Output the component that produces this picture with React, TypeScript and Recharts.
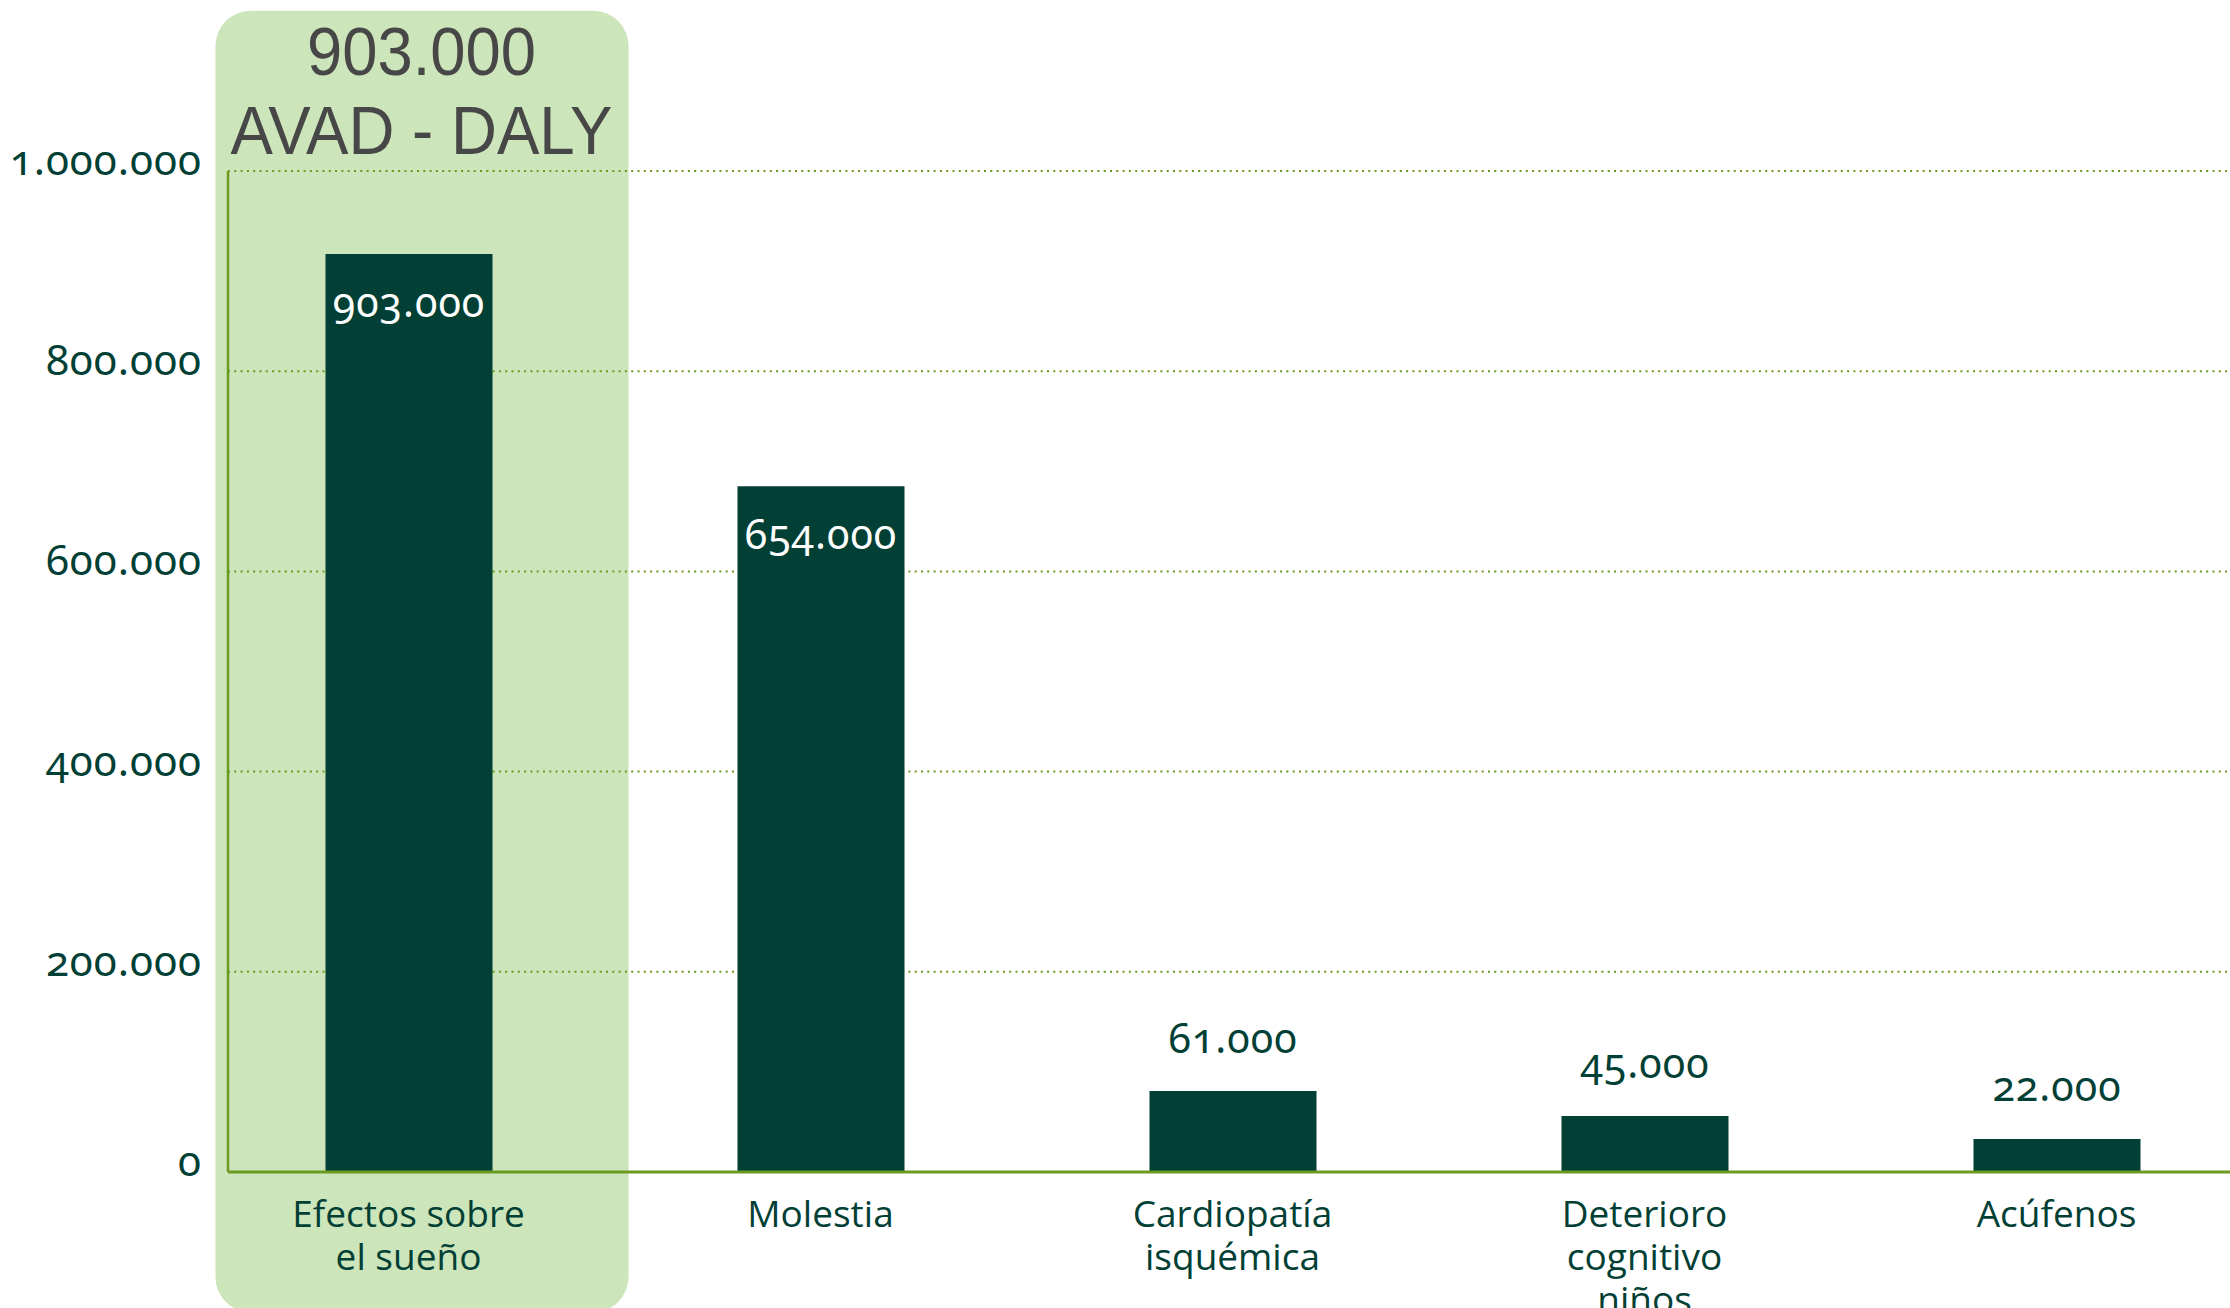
import React from "react";
import {
  BarChart,
  Bar,
  XAxis,
  YAxis,
  CartesianGrid,
  ReferenceArea,
  LabelList,
} from "recharts";

// categories (line breaks as in the source)
const categories = [
  "Efectos sobre\nel sueño",
  "Molestia",
  "Cardiopatía\nisquémica",
  "Deterioro\ncognitivo\nniños",
  "Acúfenos",
];
// figures printed on the chart
const printedValues = [903000, 654000, 61000, 45000, 22000];
// bar heights as drawn in the source (they sit a bit above the printed figures)
const barHeights = [917000, 685000, 81000, 56000, 33000];
const yTicks = [0, 200000, 400000, 600000, 800000, 1000000];
const highlightUnit = "AVAD - DALY";
// vertical extent of the highlight panel around the first category
const highlightTop = 1160000;
const highlightBottom = -140000;

const BAR = "#023f35";
const OLIVE = "#6b9a1e";
const PANEL = "#cde5ba";

const fmt = (v: number) => String(v).replace(/\B(?=(\d{3})+(?!\d))/g, ".");

const data = categories.map((name, i) => ({
  name,
  height: barHeights[i],
  printed: printedValues[i],
}));

const YTick = (props: any) => {
  const { x, y, payload } = props;
  return (
    <text
      x={x}
      y={y + 4}
      textAnchor='end'
      fill={BAR}
      fontFamily='Noto Sans'
      fontSize={42}
      letterSpacing={1}
      style={{ fontVariantNumeric: "oldstyle-nums" }}>
      {fmt(payload.value)}
    </text>
  );
};

const XTick = (props: any) => {
  const { x, y, payload } = props;
  const lines = String(payload.value).split("\n");
  return (
    <text
      x={x}
      y={y}
      textAnchor='middle'
      fill={BAR}
      fontFamily='Open Sans'
      fontSize={37}>
      {lines.map((l, i) => (
        <tspan key={i} x={x} dy={i === 0 ? 53 : 43}>
          {l}
        </tspan>
      ))}
    </text>
  );
};

const ValueLabel = (props: any) => {
  const { x, y, width, value } = props;
  const inside = value > 500000;
  return (
    <text
      x={x + width / 2}
      y={inside ? y + 63 : y - 38}
      textAnchor='middle'
      fill={inside ? "#ffffff" : BAR}
      fontFamily='Noto Sans'
      fontSize={41}
      letterSpacing={1}
      style={{ fontVariantNumeric: "oldstyle-nums" }}>
      {fmt(value)}
    </text>
  );
};

const Panel = (props: any) => {
  const { x, y, width, height } = props;
  const cx = x + 13 + width / 2;
  return (
    <g>
      <rect
        x={x + 13}
        y={y}
        width={width + 1}
        height={height}
        rx={35}
        ry={35}
        fill={PANEL}
      />
      <text
        x={cx}
        y={y + 64}
        textAnchor='middle'
        fill='#474747'
        fontFamily='Liberation Sans'
        fontSize={68}
        textLength={229}
        lengthAdjust='spacingAndGlyphs'>
        {fmt(printedValues[0])}
      </text>
      <text
        x={cx}
        y={y + 143}
        textAnchor='middle'
        fill='#474747'
        fontFamily='Liberation Sans'
        fontSize={68}
        textLength={382}
        lengthAdjust='spacingAndGlyphs'>
        {highlightUnit}
      </text>
    </g>
  );
};

export default function App() {
  return (
    <div
      style={{
        position: "absolute",
        left: 0,
        top: 0,
        width: 2230,
        height: 1308,
        overflow: "hidden",
        background: "#fff",
      }}>
      <BarChart
        width={2230}
        height={1308}
        data={data}
        margin={{ top: 171, right: 0, bottom: 0, left: 0 }}>
        <ReferenceArea
          x1={categories[0]}
          x2={categories[0]}
          y1={highlightBottom}
          y2={highlightTop}
          ifOverflow='visible'
          shape={Panel}
          zIndex={-200}
        />
        <CartesianGrid
          vertical={false}
          stroke={OLIVE}
          strokeWidth={2}
          strokeDasharray='2 4.3'
        />
        <XAxis
          dataKey='name'
          interval={0}
          height={136}
          tickLine={false}
          tickSize={0}
          axisLine={{ stroke: OLIVE, strokeWidth: 3 }}
          padding={{ left: -25.5, right: -32.5 }}
          tick={<XTick />}
        />
        <YAxis
          type='number'
          domain={[0, 1000000]}
          ticks={yTicks}
          width={228}
          tickLine={false}
          tickSize={0}
          tickMargin={26}
          axisLine={{ stroke: OLIVE, strokeWidth: 2.5 }}
          tick={<YTick />}
        />
        <Bar dataKey='height' fill={BAR} barSize={167} isAnimationActive={false}>
          <LabelList dataKey='printed' content={<ValueLabel />} />
        </Bar>
      </BarChart>
    </div>
  );
}
